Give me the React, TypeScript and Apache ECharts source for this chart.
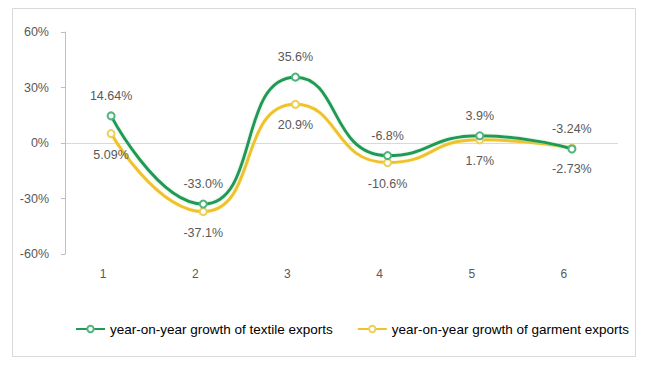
import React, { useEffect, useRef } from "react";
import * as echarts from "echarts";

const categories = ["1", "2", "3", "4", "5", "6"];
const textileValues = [14.64, -33.0, 35.6, -6.8, 3.9, -3.24];
const garmentValues = [5.09, -37.1, 20.9, -10.6, 1.7, -2.73];
const textileLabels = ["14.64%", "-33.0%", "35.6%", "-6.8%", "3.9%", "-3.24%"];
const garmentLabels = ["5.09%", "-37.1%", "20.9%", "-10.6%", "1.7%", "-2.73%"];
const seriesNames = [
  "year-on-year growth of textile exports",
  "year-on-year growth of garment exports",
];

const GREEN = "#1f9a57";
const YELLOW = "#efc22c";

export default function App() {
  const ref = useRef<HTMLDivElement>(null);
  useEffect(() => {
    if (!ref.current) return;
    const chart = echarts.init(ref.current, undefined, { renderer: "svg" });
    const labelStyle = { color: "#595959", fontSize: 12, fontFamily: "Liberation Sans, Arial, sans-serif" };
    chart.setOption({
      animation: false,
      backgroundColor: "#ffffff",
      graphic: [
        {
          type: "rect",
          shape: { x: 12.5, y: 8.5, width: 623, height: 348 },
          style: { fill: "none", stroke: "#d9d9d9", lineWidth: 1 },
          silent: true,
        },
      ],
      legend: {
        left: 70,
        top: 317,
        itemWidth: 29,
        itemHeight: 8,
        itemGap: 24,
        textStyle: {
          color: "#000",
          fontSize: 13.5,
          fontFamily: "Liberation Sans, Arial, sans-serif",
          padding: [0, 0, 0, 0],
        },
        data: seriesNames,
      },
      grid: { left: 65, right: 32, top: 32, bottom: 114 },
      xAxis: {
        type: "category",
        data: categories,
        boundaryGap: true,
        axisLine: { show: false },
        axisTick: { show: false },
        axisLabel: { ...labelStyle, margin: 14, padding: [0, 16, 0, 0] },
      },
      yAxis: {
        type: "value",
        min: -60,
        max: 60,
        interval: 30,
        axisLine: { show: true, lineStyle: { color: "#bfbfbf" } },
        axisTick: { show: true, length: 4, lineStyle: { color: "#bfbfbf" } },
        axisLabel: { ...labelStyle, fontSize: 12.5, margin: 16, formatter: "{value}%" },
        splitLine: {
          show: true,
          lineStyle: {
            color: ["transparent", "transparent", "#d9d9d9", "transparent", "transparent"],
            width: 1,
          },
        },
      },
      series: [
        {
          name: seriesNames[0],
          type: "line",
          smooth: 0.55,
          data: textileValues,
          symbol: "emptyCircle",
          symbolSize: 7,
          color: GREEN,
          z: 3,
          lineStyle: { width: 3, color: GREEN, shadowColor: "rgba(170,225,185,0.7)", shadowBlur: 2 },
          itemStyle: { color: "#4fb47d", borderWidth: 1.5 },
          label: {
            show: true,
            position: "top",
            distance: 9,
            ...labelStyle,
            fontSize: 12.5,
            formatter: (p: any) => textileLabels[p.dataIndex],
          },
        },
        {
          name: seriesNames[1],
          type: "line",
          smooth: 0.55,
          data: garmentValues,
          symbol: "emptyCircle",
          symbolSize: 7,
          color: YELLOW,
          z: 2,
          lineStyle: { width: 3, color: YELLOW, shadowColor: "rgba(250,235,160,0.7)", shadowBlur: 2 },
          itemStyle: { color: "#edcf5c", borderWidth: 1.5 },
          label: {
            show: true,
            position: "bottom",
            distance: 10,
            ...labelStyle,
            fontSize: 12.5,
            formatter: (p: any) => garmentLabels[p.dataIndex],
          },
        },
      ],
    });
    return () => chart.dispose();
  }, []);
  return (
    <div
      ref={ref}
      style={{ position: "fixed", left: 0, top: 0, width: 650, height: 368 }}
    />
  );
}
